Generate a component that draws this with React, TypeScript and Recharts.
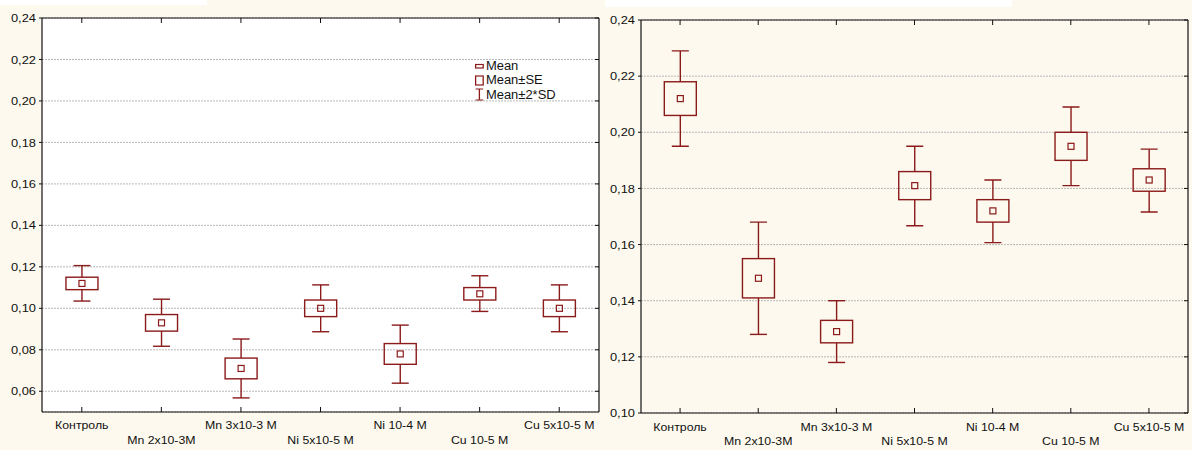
import React from 'react';
import { ComposedChart, Bar, XAxis, YAxis, CartesianGrid, Legend } from 'recharts';

const categories = ['Контроль', 'Mn 2x10-3M', 'Mn 3x10-3 M', 'Ni 5x10-5 M', 'Ni 10-4 M', 'Cu 10-5 M', 'Cu 5x10-5 M'];

const leftMean = [0.112, 0.093, 0.071, 0.100, 0.078, 0.107, 0.100];
const leftSeLo = [0.109, 0.089, 0.066, 0.096, 0.073, 0.104, 0.096];
const leftSeHi = [0.115, 0.097, 0.076, 0.104, 0.083, 0.110, 0.104];
const leftSdLo = [0.1035, 0.0817, 0.0568, 0.0887, 0.0639, 0.0985, 0.0887];
const leftSdHi = [0.1206, 0.1044, 0.0852, 0.1113, 0.0919, 0.1157, 0.1113];

const rightMean = [0.212, 0.148, 0.129, 0.181, 0.172, 0.195, 0.183];
const rightSeLo = [0.206, 0.141, 0.125, 0.176, 0.168, 0.190, 0.179];
const rightSeHi = [0.218, 0.155, 0.133, 0.186, 0.176, 0.200, 0.187];
const rightSdLo = [0.195, 0.128, 0.118, 0.1667, 0.1607, 0.181, 0.1716];
const rightSdHi = [0.229, 0.168, 0.140, 0.195, 0.183, 0.209, 0.194];

const leftTicks = [0.06, 0.08, 0.10, 0.12, 0.14, 0.16, 0.18, 0.20, 0.22, 0.24];
const rightTicks = [0.10, 0.12, 0.14, 0.16, 0.18, 0.20, 0.22, 0.24];

const legendItems = ['Mean', 'Mean±SE', 'Mean±2*SD'];

const BG = '#FDF9EE';
const RED = '#8B1A1A';
const AXIS = '#111';
const FONT = '"Liberation Sans", Arial, sans-serif';
const STRETCH = 1.12;

type Row = { name: string; mean: number; seLo: number; seHi: number; sdLo: number; sdHi: number };

function buildRows(mean: number[], seLo: number[], seHi: number[], sdLo: number[], sdHi: number[]): Row[] {
  return categories.map((name, i) => ({ name, mean: mean[i], seLo: seLo[i], seHi: seHi[i], sdLo: sdLo[i], sdHi: sdHi[i] }));
}

const leftRows = buildRows(leftMean, leftSeLo, leftSeHi, leftSdLo, leftSdHi);
const rightRows = buildRows(rightMean, rightSeLo, rightSeHi, rightSdLo, rightSdHi);

const fmt = (v: number) => v.toFixed(2).replace('.', ',');

const BoxShape = (props: any) => {
  const { x, y, width, height, payload } = props;
  if (!payload || x == null || y == null) return null;
  const top = Math.min(y, y + height);
  const bottom = Math.max(y, y + height);
  const hi = payload.sdHi;
  const lo = payload.sdLo;
  const px = (v: number) => top + ((hi - v) / (hi - lo)) * (bottom - top);
  const cx = x + width / 2;
  const boxW = 32;
  const capW = 17;
  const m = 6;
  const sw = 1.4;
  return (
    <g>
      <line x1={cx} x2={cx} y1={px(hi)} y2={px(payload.seHi)} stroke={RED} strokeWidth={sw} />
      <line x1={cx} x2={cx} y1={px(payload.seLo)} y2={px(lo)} stroke={RED} strokeWidth={sw} />
      <line x1={cx - capW / 2} x2={cx + capW / 2} y1={px(hi)} y2={px(hi)} stroke={RED} strokeWidth={sw} />
      <line x1={cx - capW / 2} x2={cx + capW / 2} y1={px(lo)} y2={px(lo)} stroke={RED} strokeWidth={sw} />
      <rect x={cx - boxW / 2} y={px(payload.seHi)} width={boxW} height={px(payload.seLo) - px(payload.seHi)} fill="none" stroke={RED} strokeWidth={sw} />
      <rect x={cx - m / 2} y={px(payload.mean) - m / 2} width={m} height={m} fill="none" stroke={RED} strokeWidth={1.2} />
    </g>
  );
};

const makeXTick = (base1: number, base2: number) => (props: any) => {
  const { x, y, payload, index } = props;
  const row = index % 2;
  const ty = y + (row === 0 ? base1 : base2);
  return (
    <g>
      <line x1={x} x2={x} y1={y} y2={y - 5} stroke={AXIS} strokeWidth={1} />
      <text transform={`translate(${x},${ty}) scale(${STRETCH},1)`} x={0} y={0} textAnchor="middle" fontSize={11} fill="#111" fontFamily={FONT}>
        {payload.value}
      </text>
    </g>
  );
};

const YTick = (props: any) => {
  const { x, y, payload } = props;
  return (
    <text transform={`translate(${x},${y}) scale(${STRETCH},1)`} x={0} y={0} dy="0.355em" textAnchor="end" fontSize={11.5} fill="#111" fontFamily={FONT}>
      {fmt(payload.value)}
    </text>
  );
};

const NoTick = () => <g />;

const LegendContent = () => (
  <div style={{ fontFamily: FONT, fontSize: 12, color: '#111', lineHeight: '14.3px', transform: 'scaleX(1.08)', transformOrigin: 'left top' }}>
    {legendItems.map((label, i) => (
      <div key={label} style={{ display: 'flex', alignItems: 'center', height: 14.3 }}>
        <svg width={10} height={13} style={{ marginRight: 1 }}>
          {i === 0 && <rect x={1.5} y={4.5} width={7} height={3.5} fill="none" stroke={RED} strokeWidth={1.2} />}
          {i === 1 && <rect x={1.5} y={2} width={7} height={9} fill="none" stroke={RED} strokeWidth={1.2} />}
          {i === 2 && (
            <g stroke={RED} strokeWidth={1.2}>
              <line x1={1.5} x2={8.5} y1={1} y2={1} />
              <line x1={5} x2={5} y1={1} y2={12} />
              <line x1={1.5} x2={8.5} y1={12} y2={12} />
            </g>
          )}
        </svg>
        <span>{label}</span>
      </div>
    ))}
  </div>
);

type PanelProps = {
  rows: Row[];
  ticks: number[];
  domain: [number, number];
  width: number;
  margin: { top: number; right: number; left: number; bottom: number };
  yWidth: number;
  xHeight: number;
  plotFill: string;
  showLegend: boolean;
  base1: number;
  base2: number;
};

const Panel = ({ rows, ticks, domain, width, margin, yWidth, xHeight, plotFill, showLegend, base1, base2 }: PanelProps) => (
  <ComposedChart width={width} height={450} data={rows} margin={margin}>
    <CartesianGrid vertical={false} horizontal={true} stroke="#b8b8b8" strokeDasharray="2 1" fill={plotFill} fillOpacity={1} />
    <XAxis
      dataKey="name"
      xAxisId={0}
      height={xHeight}
      interval={0}
      tickSize={0}
      tickMargin={0}
      tickLine={false}
      axisLine={{ stroke: AXIS, strokeWidth: 1.2 }}
      tick={makeXTick(base1, base2)}
    />
    <XAxis
      dataKey="name"
      xAxisId="top"
      orientation="top"
      height={1}
      interval={0}
      tickSize={-5}
      tick={NoTick}
      tickLine={{ stroke: AXIS }}
      axisLine={{ stroke: AXIS, strokeWidth: 1.2 }}
    />
    <YAxis
      yAxisId={0}
      width={yWidth}
      domain={domain}
      ticks={ticks}
      allowDataOverflow
      tickSize={3}
      tickMargin={3}
      tickLine={{ stroke: AXIS }}
      axisLine={{ stroke: AXIS, strokeWidth: 1.2 }}
      tick={YTick}
    />
    <YAxis
      yAxisId="r"
      orientation="right"
      width={1}
      domain={domain}
      ticks={ticks}
      allowDataOverflow
      tickSize={-4}
      tick={NoTick}
      tickLine={{ stroke: AXIS }}
      axisLine={{ stroke: AXIS, strokeWidth: 1.2 }}
    />
    <Bar
      xAxisId={0}
      yAxisId={0}
      dataKey={(d: Row) => [d.sdLo, d.sdHi]}
      shape={BoxShape}
      isAnimationActive={false}
      activeBar={false}
      legendType="none"
    />
    {showLegend && (
      <Legend
        layout="horizontal"
        verticalAlign="middle"
        align="center"
        content={() => <LegendContent />}
        wrapperStyle={{ position: 'absolute', left: 474, top: 59, width: 110, height: 44 }}
      />
    )}
  </ComposedChart>
);

export default function App() {
  return (
    <div style={{ position: 'absolute', left: 0, top: 0, width: 1192, height: 450, background: BG, overflow: 'hidden' }}>
      <div style={{ position: 'absolute', left: 0, top: 0, width: 207, height: 5, background: '#fff' }} />
      <div style={{ position: 'absolute', left: 605, top: 0, width: 407, height: 7, background: '#fff' }} />
      <div style={{ position: 'absolute', left: 0, top: 0 }}>
        <Panel
          rows={leftRows}
          ticks={leftTicks}
          domain={[0.05, 0.24]}
          width={600}
          margin={{ top: 17, right: 0, left: 0, bottom: 0 }}
          yWidth={42}
          xHeight={38}
          plotFill="#ffffff"
          showLegend={true}
          base1={17}
          base2={32}
        />
      </div>
      <div style={{ position: 'absolute', left: 600, top: 0 }}>
        <Panel
          rows={rightRows}
          ticks={rightTicks}
          domain={[0.10, 0.24]}
          width={592}
          margin={{ top: 19, right: 3, left: 0, bottom: 0 }}
          yWidth={41}
          xHeight={37}
          plotFill={BG}
          showLegend={false}
          base1={18}
          base2={32}
        />
      </div>
    </div>
  );
}
